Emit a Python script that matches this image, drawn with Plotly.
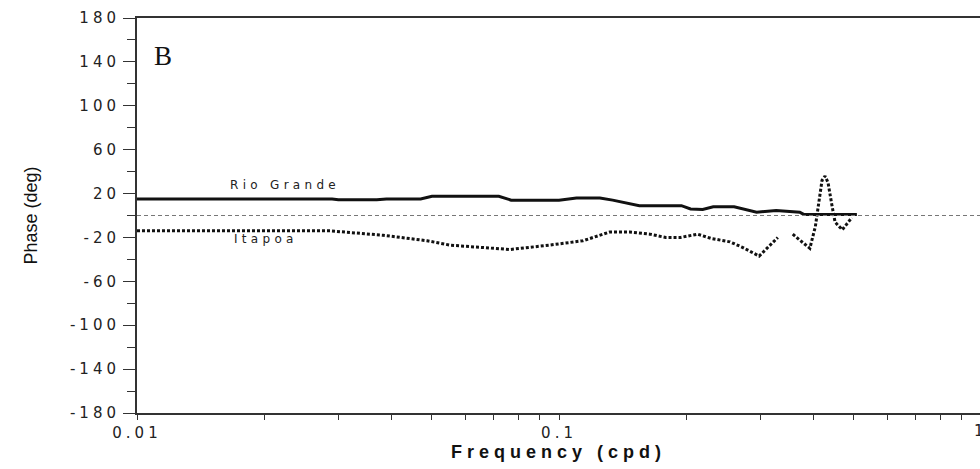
import math
import plotly.graph_objects as go

# ---- data ----
rg_freq = [0.010, 0.020, 0.029, 0.030, 0.037, 0.039, 0.047, 0.050, 0.072, 0.077,
           0.100, 0.110, 0.125, 0.134, 0.155, 0.195, 0.205, 0.219, 0.232, 0.260,
           0.294, 0.327, 0.350, 0.372, 0.380, 0.508]
rg_phase = [15, 15, 15, 14.3, 14.3, 15, 15, 17.5, 17.5, 14,
            14, 16, 16, 14, 9, 9, 6, 5.5, 8, 8,
            3, 4.5, 4, 3, 1, 1]

it_freq = [0.010, 0.0287, 0.0383, 0.0487, 0.0552, 0.0765, 0.095, 0.114, 0.132, 0.147,
           0.164, 0.179, 0.194, 0.213, 0.230, 0.254, 0.272, 0.298, 0.330, None,
           0.358, 0.393, 0.405, 0.413, 0.420, 0.427, 0.434, 0.443, 0.451, 0.469, 0.494]
it_phase = [-14, -14, -18, -23, -27, -31, -27, -23, -15, -15,
            -17, -20, -20, -17, -21, -24, -29, -37, -20, None,
            -17, -30, -10, 15, 32, 36, 30, 10, -6, -13, -2]

y_tickvals = [-180, -140, -100, -60, -20, 20, 60, 100, 140, 180]
y_ticktext = ["-180", "-140", "-100", "-60", "-20", "20", "60", "100", "140", "180"]
x_tickvals = [0.01, 0.1]
x_ticktext = ["0.01", "0.1"]

series_labels = ["Rio Grande", "Itapoa"]
label_freq = [0.0164, 0.0168]
label_phase = [28, -21]
panel_label = "B"


def spaced(t, ls=3):
    return f'<span style="letter-spacing:{ls}px">{t}</span>'


fig = go.Figure()
fig.add_trace(go.Scatter(x=rg_freq, y=rg_phase, mode="lines", name=series_labels[0],
                         line=dict(color="#111111", width=3), showlegend=False))
fig.add_trace(go.Scatter(x=it_freq, y=it_phase, mode="lines", name=series_labels[1],
                         line=dict(color="#111111", width=3, dash="3px,2px"),
                         connectgaps=False, showlegend=False))

fig.add_hline(y=0, line=dict(color="#777777", width=1, dash="4px,3px"))

for lx, ly, txt in zip(label_freq, label_phase, series_labels):
    fig.add_annotation(x=math.log10(lx), y=ly, xref="x", yref="y", text=spaced(txt, 4.3),
                       showarrow=False, xanchor="left", yanchor="middle",
                       font=dict(family="DejaVu Sans", size=12, color="#222222"))

fig.add_annotation(x=math.log10(0.0115), y=1.0 - (56 - 18) / 395, xref="x", yref="paper",
                   text=panel_label, showarrow=False, xanchor="center", yanchor="middle",
                   font=dict(family="Liberation Serif", size=27, color="#111111"))

# partially visible "1" at the right edge (cut off in the reference too)
fig.add_annotation(x=1.0012, y=-0.045, xref="paper", yref="paper", text=spaced("1", 4),
                   showarrow=False, xanchor="center", yanchor="middle",
                   font=dict(family="DejaVu Sans", size=15, color="#222222"))

fig.update_xaxes(type="log", range=[-2, -0.0024],
                 tickvals=x_tickvals, ticktext=[spaced(t, 4) for t in x_ticktext],
                 ticks="outside", ticklen=5, tickwidth=1, tickcolor="#333333",
                 minor=dict(ticks="outside", ticklen=5, tickwidth=1, tickcolor="#333333",
                            dtick="D1", showgrid=False),
                 showline=True, linecolor="#333333", linewidth=2, mirror=True,
                 showgrid=False, zeroline=False,
                 tickfont=dict(family="DejaVu Sans", size=15, color="#222222"),
                 title=dict(text="<b>" + spaced("Frequency (cpd)", 5) + "</b>",
                            font=dict(family="Liberation Sans", size=18, color="#111111"),
                            standoff=1))

fig.update_yaxes(range=[-180, 180], tickvals=y_tickvals,
                 ticktext=[spaced(t, 4) for t in y_ticktext],
                 ticks="outside", ticklen=12, tickwidth=1, tickcolor="#333333",
                 minor=dict(ticks="outside", ticklen=8, tickwidth=1, tickcolor="#333333",
                            dtick=20, tick0=0, showgrid=False),
                 showline=True, linecolor="#333333", linewidth=2, mirror=False,
                 showgrid=False, zeroline=False, ticklabelstandoff=0,
                 tickfont=dict(family="DejaVu Sans", size=15, color="#222222"),
                 title=dict(text="Phase (deg)",
                            font=dict(family="Liberation Sans Narrow, Liberation Sans", size=18,
                                      color="#111111"),
                            standoff=28))

fig.update_layout(width=980, height=469, margin=dict(l=137, r=0, t=18, b=56),
                  plot_bgcolor="white", paper_bgcolor="white", showlegend=False)

fig.write_html("out.html")
